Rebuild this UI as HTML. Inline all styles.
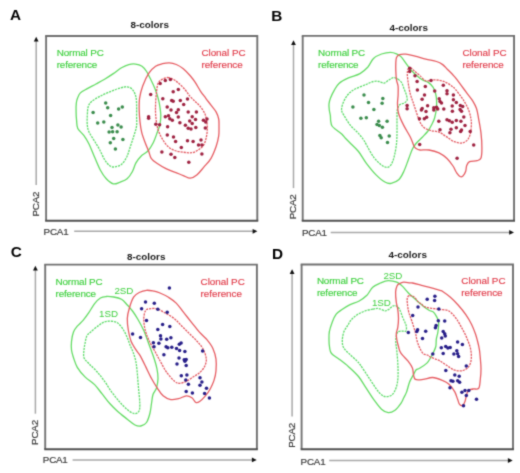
<!DOCTYPE html>
<html><head><meta charset="utf-8"><title>PCA contour figure</title>
<style>
html,body{margin:0;padding:0;background:#fff;}
body{width:520px;height:473px;overflow:hidden;font-family:"Liberation Sans",sans-serif;}
svg{display:block;}
svg text{font-family:"Liberation Sans",sans-serif;}
</style></head>
<body>
<svg width="520" height="473" viewBox="0 0 520 473" font-family="Liberation Sans, sans-serif">
<defs><filter id="soft" x="0" y="0" width="520" height="473" filterUnits="userSpaceOnUse" color-interpolation-filters="sRGB"><feConvolveMatrix order="3" kernelMatrix="0.03 0.1 0.03 0.1 0.48 0.1 0.03 0.1 0.03" edgeMode="duplicate" preserveAlpha="true"/></filter></defs>
<g filter="url(#soft)">
<rect width="520" height="473" fill="#fff"/>
<text x="10.0" y="19.6" font-size="15.3" font-weight="bold" fill="#000">A</text>
<text x="130.5" y="28.2" font-size="9.9" font-weight="bold" fill="#1a1a1a">8-colors</text>
<path d="M46.10,220.80 H46.10 V36.00" fill="none" stroke="#737373" stroke-width="1.9"/>
<path d="M45.15,36.00 H257.30 V220.80" fill="none" stroke="#707070" stroke-width="1.9"/>
<path d="M45.15,220.80 H258.25" fill="none" stroke="#505050" stroke-width="1.9"/>
<line x1="36.2" y1="40.7" x2="36.2" y2="185.1" stroke="#a8a8a8" stroke-width="1.5"/>
<path d="M36.2,36.7 L33.8,41.5 L38.6,41.5 Z" fill="#111"/>
<line x1="74.2" y1="231.3" x2="253.4" y2="231.3" stroke="#a8a8a8" stroke-width="1.5"/>
<path d="M257.4,231.3 L252.6,228.9 L252.6,233.7 Z" fill="#111"/>
<text transform="translate(39.3,204.1) rotate(-90)" text-anchor="middle" font-size="9.8" letter-spacing="-0.2" fill="#3a3a3a" stroke="#3a3a3a" stroke-width="0.2">PCA2</text>
<text x="43.6" y="234.6" font-size="9.8" letter-spacing="-0.2" fill="#3a3a3a" stroke="#3a3a3a" stroke-width="0.2">PCA1</text>
<text x="56.7" y="56.3" font-size="9.9" letter-spacing="-0.15" fill="#3ed03e" stroke="#3ed03e" stroke-width="0.15">Normal PC</text>
<text x="56.7" y="68.2" font-size="9.9" letter-spacing="-0.15" fill="#3ed03e" stroke="#3ed03e" stroke-width="0.15">reference</text>
<text x="201.4" y="56.3" font-size="9.9" letter-spacing="-0.03" fill="#e03a48" stroke="#e03a48" stroke-width="0.15">Clonal PC</text>
<text x="201.4" y="68.2" font-size="9.9" letter-spacing="-0.05" fill="#e03a48" stroke="#e03a48" stroke-width="0.15">reference</text>
<text x="271.2" y="21.2" font-size="15.3" font-weight="bold" fill="#000">B</text>
<text x="389.5" y="30.6" font-size="9.9" font-weight="bold" fill="#1a1a1a">4-colors</text>
<path d="M302.70,220.80 H302.70 V35.90" fill="none" stroke="#737373" stroke-width="1.9"/>
<path d="M301.75,35.90 H514.05 V220.80" fill="none" stroke="#707070" stroke-width="1.9"/>
<path d="M301.75,220.80 H515.00" fill="none" stroke="#505050" stroke-width="1.9"/>
<line x1="293.5" y1="44.2" x2="293.5" y2="188.1" stroke="#a8a8a8" stroke-width="1.5"/>
<path d="M293.5,40.2 L291.1,45.0 L295.9,45.0 Z" fill="#111"/>
<line x1="330.7" y1="232.4" x2="510.0" y2="232.4" stroke="#a8a8a8" stroke-width="1.5"/>
<path d="M514.0,232.4 L509.2,230.0 L509.2,234.8 Z" fill="#111"/>
<text transform="translate(295.6,206.9) rotate(-90)" text-anchor="middle" font-size="9.8" letter-spacing="-0.2" fill="#3a3a3a" stroke="#3a3a3a" stroke-width="0.2">PCA2</text>
<text x="302.0" y="235.9" font-size="9.8" letter-spacing="-0.2" fill="#3a3a3a" stroke="#3a3a3a" stroke-width="0.2">PCA1</text>
<text x="318.1" y="55.7" font-size="9.9" letter-spacing="-0.15" fill="#3ed03e" stroke="#3ed03e" stroke-width="0.15">Normal PC</text>
<text x="318.1" y="67.6" font-size="9.9" letter-spacing="-0.15" fill="#3ed03e" stroke="#3ed03e" stroke-width="0.15">reference</text>
<text x="462.4" y="55.8" font-size="9.9" letter-spacing="-0.03" fill="#e03a48" stroke="#e03a48" stroke-width="0.15">Clonal PC</text>
<text x="462.4" y="67.7" font-size="9.9" letter-spacing="-0.05" fill="#e03a48" stroke="#e03a48" stroke-width="0.15">reference</text>
<text x="10.7" y="257.4" font-size="15.3" font-weight="bold" fill="#000">C</text>
<text x="127.0" y="259.5" font-size="9.9" font-weight="bold" fill="#1a1a1a">8-colors</text>
<path d="M45.20,449.30 H45.20 V264.60" fill="none" stroke="#737373" stroke-width="1.9"/>
<path d="M44.25,264.60 H256.90 V449.30" fill="none" stroke="#707070" stroke-width="1.9"/>
<path d="M44.25,449.30 H257.85" fill="none" stroke="#505050" stroke-width="1.9"/>
<line x1="35.4" y1="269.8" x2="35.4" y2="413.7" stroke="#a8a8a8" stroke-width="1.5"/>
<path d="M35.4,265.8 L33.0,270.6 L37.8,270.6 Z" fill="#111"/>
<line x1="72.6" y1="459.9" x2="252.7" y2="459.9" stroke="#a8a8a8" stroke-width="1.5"/>
<path d="M256.7,459.9 L251.9,457.5 L251.9,462.3 Z" fill="#111"/>
<text transform="translate(38.2,432.5) rotate(-90)" text-anchor="middle" font-size="9.8" letter-spacing="-0.2" fill="#3a3a3a" stroke="#3a3a3a" stroke-width="0.2">PCA2</text>
<text x="42.8" y="462.9" font-size="9.8" letter-spacing="-0.2" fill="#3a3a3a" stroke="#3a3a3a" stroke-width="0.2">PCA1</text>
<text x="55.5" y="285.1" font-size="9.9" letter-spacing="-0.15" fill="#3ed03e" stroke="#3ed03e" stroke-width="0.15">Normal PC</text>
<text x="55.5" y="297.0" font-size="9.9" letter-spacing="-0.15" fill="#3ed03e" stroke="#3ed03e" stroke-width="0.15">reference</text>
<text x="200.6" y="285.2" font-size="9.9" letter-spacing="-0.03" fill="#e03a48" stroke="#e03a48" stroke-width="0.15">Clonal PC</text>
<text x="200.6" y="297.1" font-size="9.9" letter-spacing="-0.05" fill="#e03a48" stroke="#e03a48" stroke-width="0.15">reference</text>
<text x="272.1" y="258.6" font-size="15.3" font-weight="bold" fill="#000">D</text>
<text x="388.5" y="258.0" font-size="9.9" font-weight="bold" fill="#1a1a1a">4-colors</text>
<path d="M301.60,449.30 H301.60 V264.50" fill="none" stroke="#737373" stroke-width="1.9"/>
<path d="M300.65,264.50 H513.00 V449.30" fill="none" stroke="#707070" stroke-width="1.9"/>
<path d="M300.65,449.30 H513.95" fill="none" stroke="#505050" stroke-width="1.9"/>
<line x1="292.1" y1="273.2" x2="292.1" y2="416.4" stroke="#a8a8a8" stroke-width="1.5"/>
<path d="M292.1,269.2 L289.7,274.0 L294.5,274.0 Z" fill="#111"/>
<line x1="329.2" y1="460.5" x2="508.7" y2="460.5" stroke="#a8a8a8" stroke-width="1.5"/>
<path d="M512.7,460.5 L507.9,458.1 L507.9,462.9 Z" fill="#111"/>
<text transform="translate(294.6,435.4) rotate(-90)" text-anchor="middle" font-size="9.8" letter-spacing="-0.2" fill="#3a3a3a" stroke="#3a3a3a" stroke-width="0.2">PCA2</text>
<text x="300.6" y="464.5" font-size="9.8" letter-spacing="-0.2" fill="#3a3a3a" stroke="#3a3a3a" stroke-width="0.2">PCA1</text>
<text x="316.9" y="284.3" font-size="9.9" letter-spacing="-0.15" fill="#3ed03e" stroke="#3ed03e" stroke-width="0.15">Normal PC</text>
<text x="316.9" y="296.2" font-size="9.9" letter-spacing="-0.15" fill="#3ed03e" stroke="#3ed03e" stroke-width="0.15">reference</text>
<text x="461.3" y="284.4" font-size="9.9" letter-spacing="-0.03" fill="#e03a48" stroke="#e03a48" stroke-width="0.15">Clonal PC</text>
<text x="461.3" y="296.3" font-size="9.9" letter-spacing="-0.05" fill="#e03a48" stroke="#e03a48" stroke-width="0.15">reference</text>
<path d="M128.8,64.6 C131.1,64.0 133.3,63.8 135.5,64.1 C137.7,64.4 140.2,65.1 142.0,66.3 C143.8,67.5 145.1,69.2 146.6,71.5 C148.1,73.8 149.6,77.2 151.0,80.0 C152.4,82.8 153.7,85.5 154.9,88.5 C156.1,91.5 157.4,95.2 158.2,98.3 C159.0,101.4 159.5,104.0 159.9,106.9 C160.3,109.8 160.8,112.6 160.8,115.6 C160.8,118.6 160.5,122.1 159.9,124.9 C159.3,127.7 158.4,129.3 157.3,132.3 C156.2,135.3 154.7,139.9 153.1,143.0 C151.5,146.1 149.9,148.8 147.9,151.0 C145.9,153.2 143.0,154.2 141.0,156.2 C139.0,158.2 137.2,160.5 135.8,163.1 C134.4,165.7 133.8,169.1 132.3,171.7 C130.9,174.3 129.1,177.0 127.1,178.7 C125.1,180.4 122.5,181.2 120.2,182.1 C117.9,182.9 115.6,184.4 113.3,183.8 C111.0,183.2 108.5,181.0 106.3,178.7 C104.1,176.4 102.3,173.8 100.3,170.0 C98.3,166.2 96.1,160.5 94.2,156.2 C92.3,151.9 90.7,147.5 89.0,144.0 C87.3,140.5 85.7,138.0 83.8,135.4 C81.9,132.8 79.0,131.0 77.8,128.5 C76.6,126.0 76.9,123.4 76.6,120.6 C76.3,117.8 76.1,114.8 76.1,111.9 C76.0,109.0 76.0,105.6 76.3,103.3 C76.5,101.0 76.9,99.8 77.6,98.1 C78.3,96.4 78.8,94.5 80.4,92.9 C82.0,91.3 84.7,90.1 87.3,88.6 C89.9,87.1 93.1,85.6 96.0,84.0 C98.9,82.4 101.7,80.9 104.6,79.2 C107.5,77.5 110.5,75.5 113.3,73.6 C116.1,71.7 118.9,69.3 121.5,67.8 C124.1,66.3 126.5,65.2 128.8,64.6Z" fill="none" stroke="#64dc64" stroke-width="1.30"/>
<path d="M127.1,86.8 C129.1,87.0 130.9,87.8 132.3,89.4 C133.8,91.0 135.1,93.7 135.8,96.3 C136.5,98.9 136.5,101.8 136.6,105.0 C136.7,108.2 136.6,111.9 136.6,115.4 C136.6,118.9 137.0,122.5 136.6,125.8 C136.2,129.1 135.0,132.1 134.0,135.4 C133.0,138.7 131.8,142.3 130.6,145.8 C129.4,149.3 128.5,153.2 127.1,156.2 C125.6,159.2 123.9,162.2 121.9,164.0 C119.9,165.8 117.0,166.6 115.0,166.9 C113.0,167.2 111.5,166.9 109.8,165.7 C108.1,164.5 106.3,162.3 104.6,159.6 C102.9,156.8 101.1,152.4 99.4,149.2 C97.7,146.0 95.9,143.5 94.2,140.6 C92.5,137.7 90.2,134.5 89.0,131.9 C87.8,129.3 87.6,127.8 87.3,125.0 C87.0,122.2 87.1,118.5 87.3,115.4 C87.5,112.4 87.5,109.0 88.2,106.7 C88.9,104.4 89.7,103.2 91.6,101.5 C93.5,99.8 96.4,98.2 99.4,96.6 C102.4,95.0 106.3,93.2 109.8,91.8 C113.3,90.4 117.3,88.8 120.2,88.0 C123.1,87.2 125.1,86.6 127.1,86.8Z" fill="none" stroke="#60dc6c" stroke-width="1.30" stroke-dasharray="2.2 0.9"/>
<path d="M169.4,62.8 C171.7,62.9 174.0,63.5 176.3,64.5 C178.6,65.5 181.0,66.9 183.3,68.8 C185.6,70.7 188.2,73.5 190.2,75.8 C192.2,78.1 193.7,80.1 195.4,82.7 C197.1,85.3 198.9,88.7 200.6,91.3 C202.3,93.9 204.1,96.0 205.8,98.3 C207.5,100.6 209.3,102.9 211.0,105.2 C212.7,107.5 214.9,109.8 216.2,112.1 C217.5,114.4 218.2,116.7 218.7,119.0 C219.2,121.3 219.0,123.2 219.0,126.0 C219.0,128.8 219.2,132.4 218.7,135.8 C218.2,139.2 217.5,142.4 216.2,146.2 C214.9,149.9 213.0,154.9 211.0,158.3 C209.0,161.8 206.3,164.2 204.0,166.9 C201.7,169.6 199.4,172.8 197.1,174.7 C194.8,176.6 192.5,178.0 190.2,178.2 C187.9,178.3 185.9,176.6 183.3,175.6 C180.7,174.6 177.5,173.2 174.6,172.1 C171.7,170.9 168.9,170.1 166.0,168.7 C163.1,167.3 159.8,165.2 157.3,163.5 C154.8,161.8 152.6,160.3 151.2,158.3 C149.8,156.3 149.7,153.9 148.7,151.3 C147.7,148.7 146.4,145.9 145.2,142.7 C144.0,139.5 142.6,135.8 141.7,132.3 C140.8,128.8 140.4,125.6 140.0,121.9 C139.6,118.2 139.3,114.2 139.2,110.2 C139.1,106.2 139.0,102.1 139.6,98.1 C140.2,94.1 141.2,90.1 142.7,86.0 C144.2,81.9 146.5,76.6 148.7,73.3 C150.8,70.0 153.3,67.8 155.6,66.2 C157.9,64.6 160.2,64.3 162.5,63.7 C164.8,63.1 167.1,62.7 169.4,62.8Z" fill="none" stroke="#e65c62" stroke-width="1.30"/>
<path d="M167.7,77.5 C169.4,77.5 171.2,78.3 172.9,79.2 C174.6,80.1 176.1,81.0 178.1,82.7 C180.1,84.4 183.0,87.3 185.0,89.6 C187.0,91.9 188.5,94.5 190.2,96.5 C191.9,98.5 193.7,100.0 195.4,101.7 C197.1,103.4 199.0,104.9 200.6,106.9 C202.2,108.9 203.9,111.5 204.9,113.8 C205.9,116.1 206.2,118.6 206.6,120.8 C207.0,123.0 207.3,124.5 207.3,127.0 C207.3,129.5 207.2,132.9 206.6,135.8 C206.0,138.7 205.3,142.1 204.0,144.4 C202.7,146.7 200.8,148.2 198.8,149.6 C196.8,151.0 194.5,152.3 191.9,152.7 C189.3,153.1 186.2,152.6 183.3,152.2 C180.4,151.8 177.2,151.5 174.6,150.5 C172.0,149.5 169.7,148.1 167.7,146.2 C165.7,144.3 163.9,141.5 162.5,139.2 C161.1,136.9 159.9,134.6 159.0,132.3 C158.1,130.0 157.6,128.5 157.0,125.4 C156.4,122.3 155.8,117.5 155.6,113.8 C155.4,110.1 155.5,107.0 155.6,103.5 C155.7,100.0 156.1,96.0 156.4,93.1 C156.7,90.2 156.9,88.1 157.3,86.2 C157.7,84.3 158.1,83.0 159.0,81.8 C159.9,80.6 161.1,79.9 162.5,79.2 C163.9,78.5 166.0,77.5 167.7,77.5Z" fill="none" stroke="#e45a62" stroke-width="1.30" stroke-dasharray="2.2 0.9"/>
<path d="M390.4,52.3 C392.9,52.3 394.7,53.0 396.5,53.8 C398.3,54.6 399.6,55.3 401.2,56.9 C402.8,58.5 404.3,61.0 405.8,63.1 C407.3,65.2 408.6,67.2 410.4,69.2 C412.2,71.2 414.4,73.6 416.5,75.4 C418.6,77.2 420.7,78.8 422.7,80.0 C424.7,81.2 426.9,81.4 428.6,82.6 C430.3,83.8 431.8,85.4 433.0,87.2 C434.2,89.0 435.0,91.3 435.6,93.5 C436.2,95.7 436.5,98.0 436.6,100.5 C436.7,103.0 436.7,105.6 436.4,108.5 C436.1,111.4 435.4,115.2 434.6,118.0 C433.8,120.8 432.6,122.8 431.5,125.0 C430.4,127.2 429.5,129.0 428.0,131.0 C426.5,133.0 424.3,135.1 422.3,137.2 C420.3,139.3 417.7,141.4 416.0,143.5 C414.3,145.6 413.4,146.9 412.2,149.5 C411.0,152.1 410.0,155.4 408.6,159.0 C407.2,162.6 405.6,167.6 404.0,171.0 C402.4,174.4 401.1,177.4 399.0,179.5 C396.9,181.6 393.5,182.8 391.2,183.3 C388.9,183.8 388.0,183.8 385.4,182.3 C382.8,180.9 379.0,177.8 375.8,174.6 C372.6,171.4 369.1,166.9 366.2,163.1 C363.3,159.2 361.1,154.7 358.5,151.5 C355.9,148.3 353.0,145.9 350.8,143.7 C348.6,141.5 346.9,139.9 345.4,138.3 C343.9,136.7 343.5,135.7 342.0,134.3 C340.5,132.9 338.2,131.4 336.5,130.0 C334.8,128.6 333.0,127.5 332.0,126.0 C331.0,124.5 331.0,122.7 330.7,121.0 C330.4,119.3 330.6,117.8 330.4,116.0 C330.2,114.2 329.5,112.0 329.3,110.0 C329.1,108.0 328.8,106.0 329.0,104.0 C329.2,102.0 329.6,100.3 330.5,98.0 C331.4,95.7 332.8,92.8 334.2,90.4 C335.6,88.0 336.6,85.5 339.0,83.4 C341.4,81.3 345.0,79.5 348.5,77.9 C352.0,76.3 356.8,75.4 360.0,73.6 C363.2,71.8 365.4,69.8 367.7,67.3 C369.9,64.8 371.2,60.7 373.5,58.5 C375.8,56.3 378.7,55.0 381.5,54.0 C384.3,53.0 387.9,52.3 390.4,52.3Z" fill="none" stroke="#64dc64" stroke-width="1.30"/>
<path d="M398.1,79.2 C399.5,80.1 400.9,81.4 401.9,83.1 C402.9,84.8 403.4,87.2 404.2,89.2 C405.0,91.2 406.0,93.6 406.5,95.4 C407.0,97.2 407.5,98.7 407.1,100.0 C406.7,101.3 405.4,102.3 404.2,103.1 C402.9,103.9 400.8,103.6 399.6,104.8 C398.5,106.0 397.7,108.0 397.3,110.0 C396.9,112.0 397.1,113.2 397.0,117.0 C396.9,120.8 397.1,128.5 397.0,133.0 C396.9,137.5 396.9,140.1 396.5,143.8 C396.1,147.5 395.3,152.0 394.5,155.4 C393.7,158.8 392.7,162.0 391.5,164.0 C390.3,166.0 389.0,167.1 387.3,167.3 C385.6,167.5 383.8,166.7 381.5,165.0 C379.2,163.3 376.3,160.6 373.8,157.3 C371.3,154.0 368.2,148.0 366.5,145.0 C364.8,142.0 364.5,141.2 363.3,139.4 C362.1,137.6 360.5,135.7 359.1,134.1 C357.7,132.5 356.3,131.3 354.9,129.9 C353.5,128.5 352.0,127.3 350.7,125.7 C349.4,124.1 348.1,122.2 347.0,120.4 C345.9,118.6 344.7,116.7 343.8,115.1 C342.9,113.5 342.0,112.5 341.7,110.9 C341.4,109.3 341.6,107.7 342.2,105.6 C342.8,103.5 343.9,100.7 345.2,98.5 C346.5,96.3 348.2,94.2 350.0,92.5 C351.8,90.8 353.6,89.8 356.2,88.5 C358.8,87.2 362.9,85.8 365.8,84.6 C368.7,83.4 371.3,82.0 373.5,81.5 C375.7,81.0 377.2,81.2 379.0,81.5 C380.8,81.8 382.6,83.3 384.2,83.1 C385.8,82.8 387.2,80.9 388.8,80.0 C390.4,79.1 391.9,77.8 393.5,77.7 C395.1,77.6 396.7,78.3 398.1,79.2Z" fill="none" stroke="#60dc6c" stroke-width="1.30" stroke-dasharray="2.2 0.9"/>
<path d="M399.6,54.6 C401.2,54.1 403.2,53.9 405.8,54.2 C408.4,54.5 411.7,55.4 415.0,56.2 C418.3,57.0 422.2,58.3 425.8,59.2 C429.4,60.1 433.7,60.6 436.5,61.5 C439.3,62.4 440.9,63.3 442.7,64.6 C444.5,65.9 445.8,67.7 447.3,69.2 C448.8,70.7 450.5,72.4 451.9,73.8 C453.2,75.2 453.8,75.8 455.4,77.7 C456.9,79.6 459.3,82.8 461.2,85.4 C463.1,88.0 465.0,90.5 466.9,93.1 C468.8,95.7 471.1,98.2 472.7,100.8 C474.3,103.4 475.5,105.6 476.5,108.5 C477.5,111.4 477.8,114.0 478.5,118.1 C479.2,122.2 480.4,128.1 481.0,133.1 C481.6,138.1 481.9,144.2 481.9,148.3 C481.9,152.4 481.8,155.8 481.0,157.9 C480.2,160.0 479.0,160.1 477.1,160.7 C475.2,161.3 471.2,160.9 469.5,161.7 C467.8,162.5 467.3,163.9 466.7,165.5 C466.1,167.1 466.3,169.4 465.7,171.2 C465.1,172.9 463.8,175.1 462.9,176.0 C461.9,176.9 461.1,177.1 460.0,176.5 C458.9,175.9 457.7,174.2 456.5,172.5 C455.3,170.8 454.6,168.3 453.0,166.0 C451.4,163.7 449.3,160.7 447.0,158.5 C444.7,156.3 442.0,154.2 439.0,152.8 C436.0,151.4 432.2,150.5 429.0,150.0 C425.8,149.5 422.2,150.2 420.0,150.0 C417.8,149.8 417.0,149.2 416.0,148.5 C415.0,147.8 414.7,147.6 413.8,145.7 C412.9,143.8 412.1,140.6 410.4,137.2 C408.7,133.8 405.7,129.3 403.7,125.4 C401.7,121.5 399.6,117.1 398.6,113.5 C397.6,109.9 397.6,107.0 397.5,104.0 C397.4,101.0 398.0,98.4 398.1,95.4 C398.2,92.4 398.4,88.8 398.1,86.2 C397.8,83.6 396.9,82.6 396.5,80.0 C396.1,77.4 395.9,73.6 395.8,70.8 C395.7,68.0 395.7,65.3 395.8,63.1 C395.9,60.9 395.9,58.8 396.5,57.4 C397.1,56.0 398.1,55.1 399.6,54.6Z" fill="none" stroke="#e65c62" stroke-width="1.30"/>
<path d="M410.4,67.7 C411.4,68.0 412.7,69.5 414.2,70.8 C415.7,72.1 417.7,73.7 419.6,75.4 C421.5,77.1 423.8,80.0 425.8,80.8 C427.9,81.6 429.6,80.1 431.9,80.0 C434.2,79.9 437.3,79.9 439.6,80.3 C441.9,80.7 443.8,81.3 445.8,82.3 C447.9,83.3 450.3,85.0 451.9,86.2 C453.5,87.4 453.8,87.4 455.4,89.2 C456.9,91.0 459.6,94.7 461.2,96.9 C462.8,99.2 463.7,100.5 465.0,102.7 C466.3,105.0 467.8,107.8 468.8,110.4 C469.8,113.0 470.4,115.9 470.8,118.1 C471.2,120.3 471.4,121.1 471.4,123.6 C471.3,126.1 471.1,130.4 470.5,133.1 C469.9,135.8 469.0,138.2 467.6,139.8 C466.2,141.5 464.1,142.7 461.9,143.0 C459.7,143.3 456.8,142.7 454.3,141.7 C451.8,140.7 449.2,138.5 446.7,136.9 C444.1,135.3 441.7,133.2 439.0,132.1 C436.3,131.0 433.2,131.3 430.7,130.5 C428.2,129.7 425.9,129.1 424.0,127.5 C422.1,125.9 420.8,123.8 419.5,121.0 C418.2,118.2 417.1,114.2 416.0,111.0 C414.9,107.8 413.9,104.8 413.0,102.0 C412.1,99.2 411.1,97.1 410.3,94.0 C409.5,90.9 408.8,86.9 408.3,83.5 C407.8,80.1 407.3,76.2 407.3,73.8 C407.3,71.4 407.6,70.2 408.1,69.2 C408.6,68.2 409.4,67.4 410.4,67.7Z" fill="none" stroke="#e45a62" stroke-width="1.30" stroke-dasharray="2.2 0.9"/>
<path d="M106.2,296.5 C108.4,296.3 111.2,296.6 113.8,297.0 C116.3,297.4 119.2,297.9 121.5,299.2 C123.8,300.5 125.5,303.0 127.3,305.0 C129.1,307.0 130.7,308.6 132.5,311.0 C134.3,313.4 136.1,316.2 138.0,319.5 C139.9,322.8 142.3,327.2 144.0,331.0 C145.7,334.8 147.0,339.0 148.3,342.5 C149.6,346.0 150.8,349.1 151.8,352.0 C152.9,354.9 153.7,357.2 154.6,360.0 C155.5,362.8 156.4,365.9 157.0,369.0 C157.6,372.1 158.1,375.3 158.0,378.5 C157.9,381.7 157.3,385.3 156.5,388.0 C155.7,390.7 153.8,391.9 153.0,394.5 C152.2,397.1 152.0,400.4 151.5,403.5 C151.0,406.6 150.8,409.8 150.0,413.0 C149.2,416.2 148.0,420.3 146.5,422.5 C145.0,424.7 142.7,425.6 140.8,426.0 C138.9,426.4 137.2,426.1 135.0,425.0 C132.8,423.9 130.2,421.4 127.3,419.2 C124.4,416.9 120.6,414.1 117.7,411.5 C114.8,408.9 112.6,406.7 110.0,403.8 C107.4,400.9 104.9,397.4 102.3,394.2 C99.7,391.0 97.5,387.5 94.6,384.6 C91.7,381.7 87.9,379.8 85.0,376.9 C82.1,374.0 79.2,370.5 77.3,367.3 C75.4,364.1 74.5,360.6 73.5,357.7 C72.5,354.8 71.8,352.7 71.5,350.0 C71.2,347.3 71.2,344.5 71.5,341.5 C71.8,338.5 72.5,334.4 73.5,331.9 C74.5,329.3 75.7,328.1 77.3,326.2 C78.9,324.3 81.2,322.6 83.1,320.4 C85.0,318.1 86.9,315.5 88.8,312.7 C90.7,309.9 92.7,306.1 94.6,303.6 C96.5,301.2 98.5,299.2 100.4,298.0 C102.3,296.8 104.0,296.7 106.2,296.5Z" fill="none" stroke="#64dc64" stroke-width="1.30"/>
<path d="M111.0,321.2 C113.2,321.4 115.6,321.5 117.7,323.0 C119.8,324.5 121.9,327.6 123.5,330.0 C125.1,332.4 126.2,335.1 127.3,337.7 C128.4,340.3 129.2,343.0 130.2,345.4 C131.1,347.8 132.1,349.6 133.0,352.0 C133.9,354.4 134.8,357.0 135.5,360.0 C136.2,363.0 136.5,365.3 137.0,370.0 C137.5,374.7 138.0,382.4 138.5,388.0 C139.0,393.6 139.8,399.9 139.8,403.8 C139.9,407.7 139.8,409.9 138.8,411.5 C137.8,413.1 135.9,413.8 134.0,413.5 C132.1,413.2 129.7,411.5 127.3,409.6 C124.9,407.7 122.2,404.8 119.6,401.9 C117.0,399.0 114.5,395.8 111.9,392.3 C109.3,388.8 106.8,384.3 104.2,380.8 C101.6,377.3 99.1,374.1 96.5,371.2 C93.9,368.3 90.9,365.8 88.8,363.5 C86.7,361.2 84.8,359.9 84.0,357.7 C83.2,355.4 83.8,352.4 84.0,350.0 C84.2,347.6 84.5,345.9 85.0,343.5 C85.5,341.1 85.9,337.7 86.9,335.8 C87.9,333.9 88.9,333.6 90.8,331.9 C92.7,330.2 96.3,327.2 98.5,325.6 C100.7,324.0 102.1,322.7 104.2,322.0 C106.3,321.3 108.8,321.0 111.0,321.2Z" fill="none" stroke="#60dc6c" stroke-width="1.30" stroke-dasharray="2.2 0.9"/>
<path d="M146.5,290.3 C149.0,290.1 151.9,290.8 154.2,291.2 C156.4,291.6 157.6,292.0 160.0,293.0 C162.4,294.0 165.8,295.6 168.5,297.3 C171.2,299.0 173.6,300.5 176.2,303.1 C178.8,305.7 181.2,309.5 183.8,312.7 C186.4,315.9 188.9,319.1 191.5,322.3 C194.1,325.5 196.6,329.0 199.2,331.9 C201.8,334.8 204.6,336.9 206.9,339.6 C209.2,342.4 211.4,345.1 212.9,348.4 C214.4,351.7 215.5,355.5 216.0,359.2 C216.5,362.9 216.3,367.3 216.0,370.8 C215.7,374.3 215.0,377.4 214.0,380.4 C213.0,383.4 211.6,386.4 210.2,389.0 C208.8,391.6 207.2,393.7 205.4,395.8 C203.6,397.9 201.2,400.4 199.6,401.5 C198.0,402.6 197.1,403.1 195.8,402.5 C194.5,401.9 193.5,398.8 191.9,397.7 C190.3,396.6 188.4,395.6 186.2,395.8 C184.0,396.0 181.1,398.1 178.5,398.7 C175.9,399.3 173.4,400.1 170.8,399.6 C168.2,399.1 165.3,397.7 163.1,395.8 C160.8,393.9 159.2,391.0 157.3,388.1 C155.4,385.2 153.4,382.0 151.5,378.5 C149.6,375.0 147.7,370.8 145.8,366.9 C143.9,363.0 141.5,358.0 140.0,355.4 C138.5,352.8 138.4,353.5 136.9,351.2 C135.4,348.9 132.6,345.0 131.2,341.5 C129.8,338.0 129.0,333.8 128.3,330.0 C127.7,326.2 127.2,322.0 127.3,318.5 C127.4,315.0 128.1,312.4 129.2,308.8 C130.2,305.2 131.9,299.9 133.6,297.2 C135.3,294.5 137.0,293.6 139.2,292.5 C141.3,291.4 144.0,290.5 146.5,290.3Z" fill="none" stroke="#e65c62" stroke-width="1.30"/>
<path d="M149.2,308.8 C151.1,308.5 154.3,308.2 156.9,308.8 C159.5,309.4 161.7,311.1 164.6,312.7 C167.5,314.3 171.3,316.2 174.2,318.5 C177.1,320.8 179.3,323.6 181.9,326.2 C184.5,328.8 187.0,331.2 189.6,333.8 C192.2,336.4 195.0,338.9 197.3,341.5 C199.6,344.1 201.8,346.4 203.3,349.4 C204.8,352.3 206.1,356.3 206.3,359.2 C206.5,362.1 205.5,364.6 204.4,366.9 C203.3,369.1 201.4,371.1 199.6,372.7 C197.8,374.3 196.0,375.1 193.8,376.5 C191.6,377.9 188.6,380.2 186.2,381.3 C183.8,382.4 181.3,383.3 179.4,383.3 C177.5,383.3 176.7,383.1 174.6,381.3 C172.5,379.5 169.1,375.7 166.9,372.7 C164.7,369.7 162.9,366.0 161.5,363.5 C160.1,361.0 159.3,359.5 158.2,357.5 C157.1,355.5 156.3,353.8 155.0,351.5 C153.7,349.2 151.9,346.3 150.5,343.5 C149.1,340.7 147.5,337.4 146.5,334.5 C145.5,331.6 144.8,328.8 144.4,326.0 C144.0,323.2 143.6,320.5 143.8,318.0 C144.0,315.5 144.5,312.3 145.4,310.8 C146.3,309.3 147.3,309.1 149.2,308.8Z" fill="none" stroke="#e45a62" stroke-width="1.30" stroke-dasharray="2.2 0.9"/>
<path d="M388.1,280.6 C390.8,280.5 394.4,281.2 396.8,282.2 C399.2,283.2 400.8,284.7 402.6,286.4 C404.4,288.1 406.3,290.7 407.7,292.2 C409.1,293.7 409.3,294.0 411.1,295.6 C412.9,297.2 416.3,300.2 418.3,301.9 C420.3,303.6 421.2,304.5 423.0,305.9 C424.8,307.3 427.3,309.2 429.0,310.2 C430.7,311.2 432.1,311.0 433.3,311.9 C434.5,312.8 435.1,313.9 436.0,315.6 C436.9,317.3 438.3,319.2 438.6,321.9 C438.9,324.6 438.3,329.1 437.9,332.0 C437.5,334.9 436.6,336.9 436.3,339.3 C436.0,341.7 436.3,344.2 435.8,346.5 C435.3,348.8 433.9,351.3 433.1,353.1 C432.3,354.9 431.8,355.6 430.8,357.3 C429.8,359.0 428.8,361.3 426.9,363.1 C425.0,364.9 421.4,367.2 419.6,368.3 C417.8,369.4 417.2,368.8 416.2,369.8 C415.2,370.9 414.6,372.5 413.5,374.6 C412.4,376.7 410.6,379.4 409.5,382.3 C408.4,385.2 407.6,389.3 406.6,391.9 C405.7,394.5 404.8,395.8 403.8,397.7 C402.8,399.6 402.3,401.4 400.8,403.5 C399.3,405.6 397.1,408.7 395.0,410.2 C392.9,411.7 390.6,412.9 388.3,412.7 C386.1,412.5 383.9,411.4 381.5,409.2 C379.1,407.0 376.4,403.1 373.8,399.6 C371.2,396.1 368.8,392.0 366.2,388.1 C363.6,384.2 361.4,380.0 358.5,376.5 C355.6,373.0 352.0,369.8 348.8,366.9 C345.6,364.0 342.1,361.4 339.2,359.2 C336.3,357.0 333.1,355.4 331.5,353.5 C329.9,351.6 330.0,349.9 329.6,347.7 C329.2,345.4 329.0,342.7 329.0,340.0 C329.0,337.3 328.8,334.5 329.4,331.5 C329.9,328.5 331.2,324.8 332.3,321.9 C333.4,319.0 334.6,316.3 336.2,314.2 C337.8,312.1 339.8,311.1 342.0,309.5 C344.2,307.9 346.7,306.2 349.6,304.8 C352.5,303.4 356.3,302.6 359.2,301.0 C362.1,299.4 364.6,297.6 366.9,295.3 C369.1,293.0 370.4,289.4 372.7,287.3 C374.9,285.2 377.8,284.1 380.4,283.0 C383.0,281.9 385.4,280.7 388.1,280.6Z" fill="none" stroke="#64dc64" stroke-width="1.30"/>
<path d="M372.7,309.2 C374.9,308.8 376.4,308.2 378.5,308.5 C380.6,308.8 383.2,310.7 385.0,310.8 C386.8,310.9 387.7,310.0 389.0,309.2 C390.3,308.4 391.3,306.7 392.6,306.2 C393.9,305.7 395.6,305.4 396.8,306.1 C398.1,306.8 399.1,308.6 400.1,310.5 C401.1,312.4 401.8,315.3 402.6,317.3 C403.4,319.3 404.4,320.8 405.0,322.4 C405.6,323.9 406.2,325.2 406.4,326.6 C406.5,328.1 406.6,330.4 405.9,331.1 C405.2,331.9 403.5,331.0 402.2,331.1 C400.9,331.2 398.8,331.0 397.8,331.9 C396.8,332.8 396.6,334.6 396.3,336.3 C396.0,338.0 395.7,339.7 395.8,342.2 C395.9,344.7 396.5,347.7 396.9,351.5 C397.2,355.3 397.7,360.5 397.9,365.0 C398.1,369.5 398.2,374.6 397.9,378.5 C397.6,382.4 397.0,385.4 396.0,388.1 C395.0,390.8 393.7,393.4 392.1,394.8 C390.5,396.2 388.1,396.7 386.3,396.7 C384.5,396.7 383.2,396.2 381.5,394.8 C379.8,393.4 378.0,391.2 375.8,388.1 C373.6,385.1 370.7,380.4 368.1,376.5 C365.5,372.6 362.2,367.6 360.4,365.0 C358.5,362.4 358.7,362.8 357.0,361.0 C355.3,359.2 352.2,356.7 350.0,354.5 C347.8,352.3 345.1,350.2 343.8,348.0 C342.5,345.8 342.3,343.7 342.3,341.0 C342.3,338.3 342.9,334.7 343.8,332.0 C344.8,329.3 346.7,327.1 348.0,325.0 C349.3,322.9 349.9,321.2 351.5,319.5 C353.1,317.8 355.2,315.9 357.5,314.5 C359.8,313.1 362.5,311.9 365.0,311.0 C367.5,310.1 370.4,309.6 372.7,309.2Z" fill="none" stroke="#60dc6c" stroke-width="1.30" stroke-dasharray="2.2 0.9"/>
<path d="M403.7,282.2 C405.5,282.1 408.5,282.8 410.0,282.9 C411.5,283.0 410.7,282.6 412.6,283.0 C414.5,283.4 418.4,284.5 421.5,285.3 C424.6,286.1 428.4,287.0 431.5,287.9 C434.6,288.8 438.1,289.8 440.0,290.4 C441.9,291.0 441.0,290.4 442.7,291.5 C444.4,292.6 447.8,295.1 450.4,297.3 C453.0,299.6 455.5,302.1 458.1,305.0 C460.7,307.9 463.6,311.4 465.8,314.6 C468.0,317.8 469.9,321.0 471.5,324.2 C473.1,327.4 474.4,331.0 475.4,333.8 C476.4,336.6 476.8,338.4 477.5,341.0 C478.2,343.6 478.9,346.6 479.4,349.6 C479.9,352.6 480.1,356.0 480.4,359.2 C480.7,362.4 481.0,365.6 481.0,368.8 C481.0,372.0 480.8,375.3 480.4,378.5 C480.0,381.7 480.0,386.4 478.8,388.1 C477.6,389.9 474.9,388.6 473.1,389.0 C471.4,389.4 469.4,389.3 468.3,390.4 C467.2,391.5 466.9,393.9 466.3,395.8 C465.8,397.7 465.6,399.9 465.0,401.5 C464.4,403.1 463.4,404.9 462.5,405.4 C461.6,405.9 460.4,405.4 459.6,404.4 C458.8,403.4 458.5,401.7 457.7,399.6 C456.9,397.5 456.2,394.5 454.8,391.9 C453.4,389.3 451.1,386.1 449.0,384.2 C446.9,382.3 445.0,381.5 442.3,380.4 C439.6,379.3 435.9,377.7 432.7,377.5 C429.5,377.3 426.0,379.1 423.1,379.4 C420.2,379.7 417.0,380.2 415.4,379.4 C413.8,378.6 414.0,376.5 413.5,374.6 C413.0,372.7 413.3,370.1 412.4,367.9 C411.5,365.7 409.7,363.3 408.1,361.2 C406.5,359.1 404.1,357.0 402.7,355.4 C401.3,353.8 400.6,352.8 400.0,351.5 C399.4,350.2 399.3,349.6 398.8,347.7 C398.3,345.8 397.3,342.4 396.9,340.0 C396.5,337.6 396.1,335.4 396.3,333.3 C396.5,331.2 397.4,329.9 397.8,327.4 C398.2,324.9 398.5,321.5 398.5,318.5 C398.5,315.5 398.2,312.3 397.8,309.6 C397.4,306.9 396.7,305.1 396.3,302.2 C395.9,299.2 395.5,294.6 395.6,291.9 C395.7,289.2 396.4,287.3 397.0,285.9 C397.6,284.5 398.2,284.3 399.3,283.7 C400.4,283.1 401.9,282.3 403.7,282.2Z" fill="none" stroke="#e65c62" stroke-width="1.30"/>
<path d="M409.6,295.6 C410.7,295.5 412.6,295.9 414.1,297.0 C415.6,298.1 417.3,301.0 418.5,302.2 C419.7,303.4 420.5,303.2 421.5,304.0 C422.5,304.8 422.9,306.0 424.4,306.7 C425.9,307.4 428.4,307.7 430.4,308.1 C432.4,308.5 434.7,308.6 436.3,308.9 C437.9,309.1 438.0,309.3 440.0,309.6 C442.0,309.9 445.8,309.3 448.5,310.8 C451.2,312.3 454.0,315.6 456.2,318.5 C458.4,321.4 460.1,324.9 461.9,328.1 C463.7,331.4 465.4,334.5 466.8,338.0 C468.2,341.5 469.9,345.4 470.6,349.0 C471.3,352.6 471.6,356.5 471.2,359.5 C470.8,362.5 469.9,365.3 468.3,367.2 C466.7,369.1 463.9,370.4 461.5,370.8 C459.1,371.2 456.4,370.8 453.8,369.8 C451.2,368.8 448.8,366.6 446.2,365.0 C443.6,363.4 441.1,361.5 438.5,360.2 C435.9,358.9 432.7,358.2 430.8,357.3 C428.9,356.4 428.6,355.6 427.3,355.0 C426.0,354.4 424.4,354.8 423.1,353.5 C421.8,352.2 420.5,349.7 419.5,347.5 C418.5,345.3 417.7,342.9 417.0,340.5 C416.3,338.1 416.3,336.2 415.5,333.0 C414.7,329.8 413.1,324.9 412.0,321.5 C410.9,318.1 409.7,315.6 408.9,312.6 C408.1,309.6 407.6,306.2 407.4,303.7 C407.1,301.2 407.0,299.1 407.4,297.8 C407.8,296.5 408.5,295.7 409.6,295.6Z" fill="none" stroke="#e45a62" stroke-width="1.30" stroke-dasharray="2.2 0.9"/>
<g fill="#3a8c4c"><circle cx="105.7" cy="103.1" r="1.75"/><circle cx="107.7" cy="107.7" r="1.75"/><circle cx="93.1" cy="112.6" r="1.75"/><circle cx="118.6" cy="108.9" r="1.75"/><circle cx="122.3" cy="106.9" r="1.75"/><circle cx="110.6" cy="115.4" r="1.75"/><circle cx="97.7" cy="123.1" r="1.75"/><circle cx="103.8" cy="122.0" r="1.75"/><circle cx="112.0" cy="127.5" r="1.75"/><circle cx="117.9" cy="124.9" r="1.75"/><circle cx="121.1" cy="127.1" r="1.75"/><circle cx="109.1" cy="132.1" r="1.75"/><circle cx="112.6" cy="131.7" r="1.75"/><circle cx="117.1" cy="131.7" r="1.75"/><circle cx="113.7" cy="138.6" r="1.75"/><circle cx="110.3" cy="142.8" r="1.75"/><circle cx="122.9" cy="139.4" r="1.75"/><circle cx="115.4" cy="148.9" r="1.75"/></g>
<g fill="#9e2140"><circle cx="160.2" cy="83.4" r="1.75"/><circle cx="165.3" cy="80.6" r="1.75"/><circle cx="170.4" cy="79.4" r="1.75"/><circle cx="173.2" cy="91.7" r="1.75"/><circle cx="178.3" cy="89.5" r="1.75"/><circle cx="150.7" cy="94.6" r="1.75"/><circle cx="162.8" cy="98.7" r="1.75"/><circle cx="171.7" cy="100.6" r="1.75"/><circle cx="173.2" cy="101.2" r="1.75"/><circle cx="180.3" cy="100.6" r="1.75"/><circle cx="183.7" cy="104.4" r="1.75"/><circle cx="187.5" cy="98.9" r="1.75"/><circle cx="167.2" cy="106.9" r="1.75"/><circle cx="171.0" cy="110.1" r="1.75"/><circle cx="178.3" cy="109.8" r="1.75"/><circle cx="176.5" cy="112.4" r="1.75"/><circle cx="188.2" cy="112.0" r="1.75"/><circle cx="196.4" cy="112.0" r="1.75"/><circle cx="148.6" cy="116.7" r="1.75"/><circle cx="148.6" cy="118.3" r="1.75"/><circle cx="165.3" cy="116.7" r="1.75"/><circle cx="168.5" cy="115.8" r="1.75"/><circle cx="169.8" cy="118.7" r="1.75"/><circle cx="172.3" cy="120.2" r="1.75"/><circle cx="178.3" cy="117.1" r="1.75"/><circle cx="192.2" cy="116.7" r="1.75"/><circle cx="195.5" cy="119.6" r="1.75"/><circle cx="189.7" cy="120.9" r="1.75"/><circle cx="192.2" cy="123.4" r="1.75"/><circle cx="203.4" cy="120.2" r="1.75"/><circle cx="207.0" cy="119.0" r="1.75"/><circle cx="205.7" cy="122.1" r="1.75"/><circle cx="179.9" cy="122.8" r="1.75"/><circle cx="155.8" cy="124.3" r="1.75"/><circle cx="159.6" cy="124.7" r="1.75"/><circle cx="167.6" cy="126.8" r="1.75"/><circle cx="185.4" cy="125.3" r="1.75"/><circle cx="188.2" cy="128.3" r="1.75"/><circle cx="191.0" cy="129.0" r="1.75"/><circle cx="195.8" cy="127.6" r="1.75"/><circle cx="205.3" cy="127.9" r="1.75"/><circle cx="167.3" cy="135.1" r="1.75"/><circle cx="173.5" cy="137.0" r="1.75"/><circle cx="175.6" cy="141.4" r="1.75"/><circle cx="187.5" cy="140.8" r="1.75"/><circle cx="193.1" cy="141.4" r="1.75"/><circle cx="201.0" cy="140.1" r="1.75"/><circle cx="198.5" cy="145.1" r="1.75"/><circle cx="201.9" cy="145.1" r="1.75"/><circle cx="181.3" cy="147.6" r="1.75"/><circle cx="161.9" cy="152.0" r="1.75"/><circle cx="171.0" cy="154.3" r="1.75"/><circle cx="174.8" cy="157.6" r="1.75"/><circle cx="201.9" cy="153.9" r="1.75"/><circle cx="188.8" cy="162.3" r="1.75"/></g>
<g fill="#3a8c4c"><circle cx="364.0" cy="95.0" r="1.75"/><circle cx="382.8" cy="98.4" r="1.75"/><circle cx="382.1" cy="103.2" r="1.75"/><circle cx="368.5" cy="102.6" r="1.75"/><circle cx="352.9" cy="107.0" r="1.75"/><circle cx="373.9" cy="109.6" r="1.75"/><circle cx="360.9" cy="118.2" r="1.75"/><circle cx="366.3" cy="117.8" r="1.75"/><circle cx="378.6" cy="121.2" r="1.75"/><circle cx="377.0" cy="124.5" r="1.75"/><circle cx="379.3" cy="125.4" r="1.75"/><circle cx="382.4" cy="127.3" r="1.75"/><circle cx="387.1" cy="121.2" r="1.75"/><circle cx="379.9" cy="135.6" r="1.75"/><circle cx="381.2" cy="137.7" r="1.75"/><circle cx="389.2" cy="136.0" r="1.75"/><circle cx="387.5" cy="142.6" r="1.75"/></g>
<g fill="#9e2140"><circle cx="409.7" cy="68.3" r="1.75"/><circle cx="409.7" cy="71.6" r="1.75"/><circle cx="415.0" cy="75.7" r="1.75"/><circle cx="417.1" cy="81.5" r="1.75"/><circle cx="431.0" cy="80.6" r="1.75"/><circle cx="425.3" cy="86.4" r="1.75"/><circle cx="443.3" cy="85.2" r="1.75"/><circle cx="417.4" cy="90.1" r="1.75"/><circle cx="434.7" cy="90.9" r="1.75"/><circle cx="447.0" cy="90.7" r="1.75"/><circle cx="447.0" cy="93.8" r="1.75"/><circle cx="424.5" cy="95.0" r="1.75"/><circle cx="453.4" cy="95.0" r="1.75"/><circle cx="422.1" cy="99.2" r="1.75"/><circle cx="439.2" cy="98.7" r="1.75"/><circle cx="440.0" cy="101.4" r="1.75"/><circle cx="441.5" cy="103.1" r="1.75"/><circle cx="453.4" cy="99.7" r="1.75"/><circle cx="456.3" cy="102.6" r="1.75"/><circle cx="407.1" cy="105.6" r="1.75"/><circle cx="407.1" cy="108.8" r="1.75"/><circle cx="427.6" cy="105.7" r="1.75"/><circle cx="422.2" cy="108.4" r="1.75"/><circle cx="421.4" cy="110.1" r="1.75"/><circle cx="433.8" cy="107.8" r="1.75"/><circle cx="436.5" cy="107.2" r="1.75"/><circle cx="437.7" cy="109.0" r="1.75"/><circle cx="433.8" cy="109.9" r="1.75"/><circle cx="443.8" cy="109.0" r="1.75"/><circle cx="452.2" cy="106.0" r="1.75"/><circle cx="460.3" cy="105.5" r="1.75"/><circle cx="462.7" cy="106.6" r="1.75"/><circle cx="452.4" cy="111.3" r="1.75"/><circle cx="460.1" cy="109.5" r="1.75"/><circle cx="461.5" cy="111.3" r="1.75"/><circle cx="426.0" cy="111.5" r="1.75"/><circle cx="419.4" cy="118.8" r="1.75"/><circle cx="424.3" cy="118.8" r="1.75"/><circle cx="426.6" cy="117.3" r="1.75"/><circle cx="438.8" cy="121.2" r="1.75"/><circle cx="447.0" cy="119.7" r="1.75"/><circle cx="449.3" cy="120.8" r="1.75"/><circle cx="452.2" cy="122.3" r="1.75"/><circle cx="456.3" cy="120.6" r="1.75"/><circle cx="460.9" cy="121.2" r="1.75"/><circle cx="463.8" cy="117.1" r="1.75"/><circle cx="465.0" cy="125.5" r="1.75"/><circle cx="456.3" cy="127.8" r="1.75"/><circle cx="451.0" cy="129.3" r="1.75"/><circle cx="449.9" cy="132.8" r="1.75"/><circle cx="440.0" cy="129.7" r="1.75"/><circle cx="461.5" cy="129.9" r="1.75"/><circle cx="460.6" cy="131.6" r="1.75"/><circle cx="470.2" cy="131.6" r="1.75"/><circle cx="419.7" cy="144.4" r="1.75"/><circle cx="473.7" cy="145.0" r="1.75"/><circle cx="457.1" cy="158.2" r="1.75"/></g>
<g fill="#261d88"><circle cx="169.4" cy="288.1" r="1.75"/><circle cx="145.5" cy="302.0" r="1.75"/><circle cx="154.3" cy="303.2" r="1.75"/><circle cx="141.6" cy="308.7" r="1.75"/><circle cx="157.8" cy="309.3" r="1.75"/><circle cx="167.2" cy="312.2" r="1.75"/><circle cx="146.5" cy="320.5" r="1.75"/><circle cx="162.6" cy="324.6" r="1.75"/><circle cx="169.8" cy="326.6" r="1.75"/><circle cx="157.8" cy="329.5" r="1.75"/><circle cx="132.6" cy="334.1" r="1.75"/><circle cx="140.5" cy="337.5" r="1.75"/><circle cx="160.5" cy="335.8" r="1.75"/><circle cx="160.9" cy="338.9" r="1.75"/><circle cx="166.7" cy="339.3" r="1.75"/><circle cx="170.9" cy="337.8" r="1.75"/><circle cx="153.4" cy="342.7" r="1.75"/><circle cx="158.9" cy="343.3" r="1.75"/><circle cx="154.0" cy="346.8" r="1.75"/><circle cx="166.1" cy="346.8" r="1.75"/><circle cx="167.8" cy="347.7" r="1.75"/><circle cx="171.8" cy="347.3" r="1.75"/><circle cx="179.3" cy="344.2" r="1.75"/><circle cx="181.1" cy="343.1" r="1.75"/><circle cx="176.5" cy="348.5" r="1.75"/><circle cx="179.6" cy="350.5" r="1.75"/><circle cx="184.9" cy="351.5" r="1.75"/><circle cx="202.6" cy="351.1" r="1.75"/><circle cx="163.9" cy="354.7" r="1.75"/><circle cx="179.0" cy="358.1" r="1.75"/><circle cx="184.2" cy="359.7" r="1.75"/><circle cx="186.2" cy="359.4" r="1.75"/><circle cx="184.9" cy="361.2" r="1.75"/><circle cx="177.0" cy="363.9" r="1.75"/><circle cx="186.2" cy="365.6" r="1.75"/><circle cx="181.3" cy="375.7" r="1.75"/><circle cx="186.9" cy="375.1" r="1.75"/><circle cx="185.8" cy="380.0" r="1.75"/><circle cx="188.4" cy="384.3" r="1.75"/><circle cx="200.0" cy="377.8" r="1.75"/><circle cx="201.9" cy="382.0" r="1.75"/><circle cx="200.0" cy="385.2" r="1.75"/><circle cx="206.5" cy="388.3" r="1.75"/><circle cx="186.2" cy="391.4" r="1.75"/><circle cx="192.4" cy="393.1" r="1.75"/><circle cx="204.6" cy="393.5" r="1.75"/><circle cx="209.4" cy="398.0" r="1.75"/></g>
<g fill="#261d88"><circle cx="427.2" cy="299.2" r="1.75"/><circle cx="434.9" cy="296.2" r="1.75"/><circle cx="434.6" cy="300.4" r="1.75"/><circle cx="418.0" cy="307.0" r="1.75"/><circle cx="438.8" cy="309.0" r="1.75"/><circle cx="412.7" cy="315.5" r="1.75"/><circle cx="438.3" cy="320.8" r="1.75"/><circle cx="444.7" cy="321.1" r="1.75"/><circle cx="436.1" cy="325.5" r="1.75"/><circle cx="435.4" cy="327.8" r="1.75"/><circle cx="417.6" cy="329.7" r="1.75"/><circle cx="416.8" cy="331.5" r="1.75"/><circle cx="408.3" cy="332.6" r="1.75"/><circle cx="425.7" cy="331.2" r="1.75"/><circle cx="443.2" cy="331.5" r="1.75"/><circle cx="444.7" cy="333.7" r="1.75"/><circle cx="445.3" cy="335.9" r="1.75"/><circle cx="441.7" cy="338.1" r="1.75"/><circle cx="422.5" cy="338.6" r="1.75"/><circle cx="457.6" cy="342.1" r="1.75"/><circle cx="462.4" cy="344.5" r="1.75"/><circle cx="441.3" cy="347.7" r="1.75"/><circle cx="445.7" cy="346.6" r="1.75"/><circle cx="447.9" cy="348.0" r="1.75"/><circle cx="450.2" cy="347.4" r="1.75"/><circle cx="456.8" cy="350.7" r="1.75"/><circle cx="457.6" cy="353.7" r="1.75"/><circle cx="453.9" cy="354.0" r="1.75"/><circle cx="443.2" cy="353.4" r="1.75"/><circle cx="432.8" cy="354.0" r="1.75"/><circle cx="458.6" cy="356.6" r="1.75"/><circle cx="466.3" cy="366.0" r="1.75"/><circle cx="445.8" cy="370.4" r="1.75"/><circle cx="454.8" cy="375.0" r="1.75"/><circle cx="459.2" cy="376.2" r="1.75"/><circle cx="451.0" cy="380.8" r="1.75"/><circle cx="452.9" cy="381.3" r="1.75"/><circle cx="457.7" cy="380.8" r="1.75"/><circle cx="459.6" cy="382.3" r="1.75"/><circle cx="450.0" cy="387.7" r="1.75"/><circle cx="461.9" cy="392.3" r="1.75"/><circle cx="465.0" cy="390.4" r="1.75"/><circle cx="468.8" cy="390.4" r="1.75"/><circle cx="466.3" cy="395.4" r="1.75"/><circle cx="476.5" cy="399.2" r="1.75"/><circle cx="463.5" cy="405.8" r="1.75"/></g>
<text x="114.4" y="293.9" font-size="9.8" fill="#3ed03e">2SD</text>
<text x="99.0" y="317.1" font-size="9.8" fill="#3ed03e">1SD</text>
<text x="383.4" y="278.8" font-size="9.8" fill="#3ed03e">2SD</text>
<text x="371.9" y="305.8" font-size="9.8" fill="#3ed03e">1SD</text>
</g>
</svg>
</body></html>
